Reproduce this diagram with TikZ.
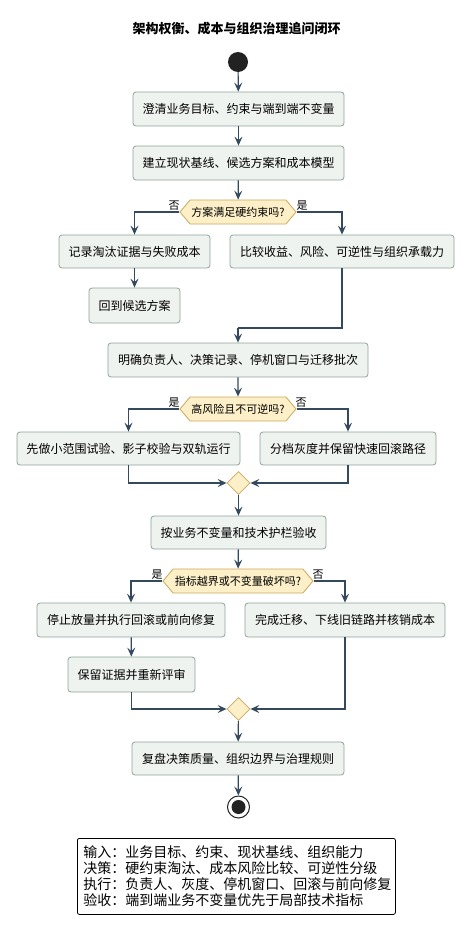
\documentclass[tikz,border=0pt]{standalone}
\usepackage{fontspec}
\setmainfont{Noto Sans CJK SC}
\usetikzlibrary{shapes.geometric,shapes.symbols,arrows.meta}
\definecolor{boxfill}{HTML}{EEF3EF}
\definecolor{boxline}{HTML}{8FA39A}
\definecolor{arrcol}{HTML}{34495E}
\definecolor{hexfill}{HTML}{FDF0C8}
\definecolor{hexline}{HTML}{C9A85A}
\definecolor{dotcol}{HTML}{222222}
\tikzset{
  act/.style={draw=boxline, fill=boxfill, line width=0.8pt, rounded corners=3pt,
    inner sep=0pt, font=\fontsize{12}{14}\selectfont, text=black},
  hexa/.style={signal, signal to=west and east, signal pointer angle=100,
    draw=hexline, fill=hexfill, line width=0.8pt, inner sep=0pt,
    font=\fontsize{11}{13}\selectfont, minimum height=24pt},
  merge/.style={diamond, draw=hexline, fill=hexfill, line width=0.8pt,
    minimum size=23pt, inner sep=0pt},
  arr/.style={draw=arrcol, line width=1.2pt, -{Stealth[length=9pt,width=8pt,inset=3.5pt]}},
  lin/.style={draw=arrcol, line width=1.2pt},
  lbl/.style={font=\fontsize{11}{13}\selectfont, inner sep=0pt}
}
\begin{document}
\begin{tikzpicture}[x=1pt,y=-1pt]
\useasboundingbox (0,0) rectangle (473,937);
\node[font=\bfseries\fontsize{13}{15}\selectfont] (title) at (236.5,29) {架构权衡、成本与组织治理追问闭环};
\node[circle, fill=dotcol, minimum size=20pt, inner sep=0pt] (start) at (238,62) {};
\node[act, minimum width=211pt, minimum height=34pt] (b1) at (238.5,109) {澄清业务目标、约束与端到端不变量};
\node[act, minimum width=211pt, minimum height=34pt] (b2) at (238.5,163) {建立现状基线、候选方案和成本模型};
\node[hexa, minimum width=116pt] (h1) at (238,212) {方案满足硬约束吗?};
\node[lbl] (n1) at (174,206) {否};
\node[lbl] (y1) at (302,206) {是};
\node[act, minimum width=151pt, minimum height=33pt] (b3) at (134.5,251.5) {记录淘汰证据与失败成本};
\node[act, minimum width=91pt, minimum height=35pt] (b4) at (134.5,305.5) {回到候选方案};
\node[act, minimum width=224pt, minimum height=33pt] (b5) at (342,251.5) {比较收益、风险、可逆性与组织承载力};
\coordinate (j1) at (238,328);
\node[act, minimum width=260pt, minimum height=34pt] (b6) at (238,360) {明确负责人、决策记录、停机窗口与迁移批次};
\node[hexa, minimum width=116pt] (h2) at (238,409) {高风险且不可逆吗?};
\node[lbl] (y2) at (174,403) {是};
\node[lbl] (n2) at (301,403) {否};
\node[act, minimum width=223pt, minimum height=33pt] (b7) at (128.5,448.5) {先做小范围试验、影子校验与双轨运行};
\node[act, minimum width=176pt, minimum height=33pt] (b8) at (348,448.5) {分档灰度并保留快速回滚路径};
\node[merge] (m1) at (238.5,483) {};
\node[act, minimum width=175pt, minimum height=33pt] (b9) at (238.5,532.5) {按业务不变量和技术护栏验收};
\node[hexa, minimum width=150pt] (h3) at (238,581) {指标越界或不变量破坏吗?};
\node[lbl] (y3) at (157,575) {是};
\node[lbl] (n3) at (318,575) {否};
\node[act, minimum width=188pt, minimum height=34pt] (b10) at (131,620) {停止放量并执行回滚或前向修复};
\node[act, minimum width=127pt, minimum height=35pt] (b11) at (131.5,674.5) {保留证据并重新评审};
\node[act, minimum width=200pt, minimum height=34pt] (b12) at (345,620) {完成迁移、下线旧链路并核销成本};
\node[merge] (m2) at (238.5,709) {};
\node[act, minimum width=212pt, minimum height=33pt] (b13) at (238,758.5) {复盘决策质量、组织边界与治理规则};
\node[circle, draw=dotcol, fill=white, line width=1pt, minimum size=22pt, inner sep=0pt] (end) at (238.5,807) {};
\node[circle, fill=dotcol, minimum size=14pt, inner sep=0pt] (endin) at (238.5,807) {};
\node[draw=black, line width=0.8pt, rounded corners=2pt, anchor=north west,
  minimum width=318pt, minimum height=76pt, align=left, inner xsep=6pt, inner ysep=0pt,
  font=\fontsize{14}{16}\selectfont, text width=306pt] (legend) at (77,838)
  {输入：业务目标、约束、现状基线、组织能力\\决策：硬约束淘汰、成本风险比较、可逆性分级\\执行：负责人、灰度、停机窗口、回滚与前向修复\\验收：端到端业务不变量优先于局部技术指标};
\draw[arr] (start) -- (b1);
\draw[arr] (b1) -- (b2);
\draw[arr] (b2) -- (h1);
\draw[arr] (h1.west) -| (b3.north);
\draw[arr] (h1.east) -| (b5.north);
\draw[arr] (b3) -- (b4);
\draw[lin] (b5.south) |- (j1);
\draw[arr] (j1) -- (b6.north);
\draw[arr] (b6) -- (h2);
\draw[arr] (h2.west) -| (b7.north);
\draw[arr] (h2.east) -| (b8.north);
\draw[arr] (b7.south) |- (m1.west);
\draw[arr] (b8.south) |- (m1.east);
\draw[arr] (m1) -- (b9);
\draw[arr] (b9) -- (h3);
\draw[arr] (h3.west) -| (b10.north);
\draw[arr] (h3.east) -| (b12.north);
\draw[arr] (b10) -- (b11);
\draw[arr] (b11.south) |- (m2.west);
\draw[arr] (b12.south) |- (m2.east);
\draw[arr] (m2) -- (b13);
\draw[arr] (b13) -- (end);
\end{tikzpicture}
\end{document}
